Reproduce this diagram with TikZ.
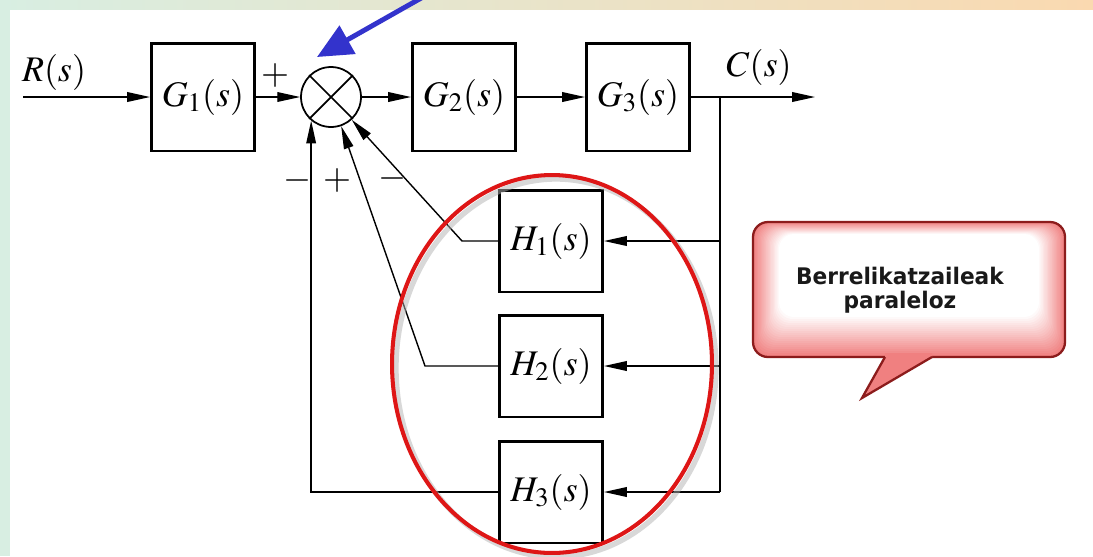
\documentclass[tikz,border=0pt]{standalone}
\usepackage[no-math]{fontspec}
\usepackage{mathptmx}
\usetikzlibrary{arrows.meta}
\newfontfamily\calloutfont{DejaVu Sans}
\newcommand{\narrow}[1]{\scalebox{0.95}[1]{#1}}
\definecolor{mintband}{RGB}{216,238,226}
\definecolor{peachband}{RGB}{250,217,176}
\definecolor{markblue}{RGB}{51,51,204}
\definecolor{ringred}{RGB}{222,22,22}
\definecolor{calloutedge}{RGB}{140,28,28}
\definecolor{calloutpink}{RGB}{240,128,128}
\tikzset{
    block/.style={draw, line width=1.7pt, minimum width=2.06cm, minimum height=2.04cm, inner sep=0pt, font=\fontsize{20.5}{24}\selectfont},
    sumjunction/.style={draw, circle, line width=1pt, minimum size=1.2cm, inner sep=0pt},
    signal/.style={line width=0.8pt, -{Triangle[length=13pt,width=5.5pt]}},
    wire/.style={line width=0.8pt},
    sign/.style={font=\fontsize{20.5}{24}\selectfont, inner sep=0pt},
}
\begin{document}
\begin{tikzpicture}[x=0.02cm, y=-0.02cm]
    \useasboundingbox (0,0) rectangle (1093,556);
    \fill[white] (0,0) rectangle (1093,556);
    \fill[mintband] (0,0) rectangle (10,556);
    \shade[left color=mintband, right color=peachband] (0,0) rectangle (1093,9);

    % forward path
    \node[sign] (R) at (54,72) {$R(s)$};
    \node[block, minimum height=2.16cm] (G1) at (203,97) {$G_1(s)$};
    \node[sumjunction] (sum) at (331,97) {};
    \draw[line width=1pt] (sum.45) -- (sum.225) (sum.135) -- (sum.315);
    \node[block, minimum height=2.16cm] (G2) at (464,97) {$G_2(s)$};
    \node[block, minimum height=2.16cm] (G3) at (638,97) {$G_3(s)$};
    \node[sign] (C) at (759,67) {$C(s)$};
    \coordinate (in) at (23,97);
    \coordinate (br) at (720,97);
    \coordinate (out) at (815,97);

    \draw[signal] (in) -- (G1);
    \draw[signal] (G1) -- (sum);
    \draw[signal] (sum) -- (G2);
    \draw[signal] (G2) -- (G3);
    \draw[signal] (G3) -- (out);

    % feedback blocks
    \node[block] (H1) at (551,241) {$H_1(s)$};
    \node[block] (H2) at (551,366) {$H_2(s)$};
    \node[block] (H3) at (551,492) {$H_3(s)$};
    \coordinate (k1) at (462,241);
    \coordinate (k2) at (425,366);

    \draw[wire] (br) -- (br |- H3);
    \draw[signal] (br |- H1) -- (H1);
    \draw[signal] (br |- H2) -- (H2);
    \draw[signal] (br |- H3) -- (H3);
    \draw[signal] (H1.west) -- (k1) -- (sum);
    \draw[signal] (H2.west) -- (k2) -- (sum);
    \draw[signal] (H3.west) -| (sum.230);

    \node[sign] (s0) at (275,75) {$+$};
    \node[sign] (s3) at (297,180) {$-$};
    \node[sign] (s2) at (337,180) {$+$};
    \node[sign] (s1) at (392,178) {$-$};

    % red ring
    \draw[gray!60, line width=3pt, opacity=0.5] (556,368) ellipse [x radius=3.2cm, y radius=3.78cm];
    \draw[ringred, line width=2.3pt] (552,364) ellipse [x radius=3.2cm, y radius=3.78cm];

    % blue arrow
    \coordinate (mark) at (423,-3);
    \coordinate (marktip) at (317,57);
    \draw[markblue, line width=2.8pt, -{Triangle[length=20pt,width=18pt]}] (mark) -- (marktip);

    % callout
    \foreach \i in {0,...,20} {
        \pgfmathsetmacro\tint{100*\i/20}
        \fill[white!\tint!calloutpink, rounded corners=0.3cm]
            (753+1.3*\i,222+0.6*\i) rectangle (1065-1.3*\i,357-2*\i);
    }
    \draw[calloutedge, line width=1.3pt, rounded corners=0.3cm] (753,222) rectangle (1065,357);
    \fill[calloutpink] (885,357) -- (862,398) -- (932,357) -- (932,353) -- (885,353) -- cycle;
    \draw[calloutedge, line width=1.3pt, line join=miter] (885,357) -- (862,398) -- (932,357);
    \node[font={\calloutfont\bfseries\fontsize{13}{13.7}\selectfont}, align=center, text=black!90] (note) at (900,290) {\narrow{Berrelikatzaileak}\\\narrow{paraleloz}};
\end{tikzpicture}
\end{document}
